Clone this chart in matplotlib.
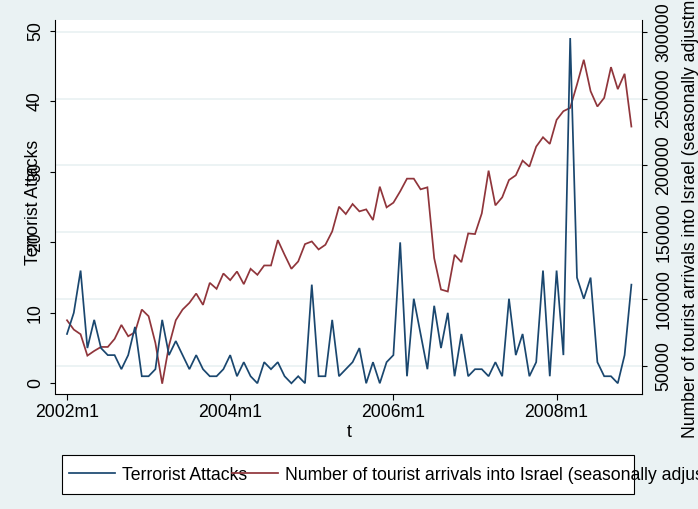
import numpy as np
import matplotlib
matplotlib.use("Agg")
import matplotlib.pyplot as plt
from matplotlib.patches import Rectangle
from matplotlib.lines import Line2D

# Monthly time variable (Stata %tm codes: 504 = 2002m1 ... 587 = 2008m12)
months = np.arange(504, 588)

# Terrorist attacks per month
attacks = [7, 10, 16, 5, 9, 5, 4, 4, 2, 4, 8, 1, 1, 2, 9, 4, 6, 4, 2, 4, 2, 1,
           1, 2, 4, 1, 3, 1, 0, 3, 2, 3, 1, 0, 1, 0, 14, 1, 1, 9, 1, 2, 3, 5, 0,
           3, 0, 3, 4, 20, 1, 12,
           7, 2, 11, 5, 10, 1, 7, 1, 2, 2, 1, 3, 1, 12, 4, 7, 1, 3, 16, 1, 16, 4,
           49, 15, 12, 15, 3, 1, 1, 0, 4, 14]

# Tourist arrivals into Israel, seasonally adjusted
arrivals = [84000, 77000, 73500, 57500, 61000, 64000, 64000, 70000, 80500, 72000,
            75000, 92000, 87000, 67000, 36500, 65000, 84000, 92000, 97000, 104000,
            95500, 112000, 107500, 119000, 114000, 120500, 111000, 122500, 118000,
            125000, 125000, 144000, 133000, 122500, 128000, 141000, 143000, 137000,
            140500, 150500, 169000, 163500, 171000, 165500, 167000, 159000, 184000,
            168500, 172000, 180500, 190000, 190000, 182000, 183500, 130500, 107000,
            105500, 133000, 127500, 149000, 148500, 164000, 196000, 170000, 176000,
            189000, 192500, 203500, 199000, 214000, 221000, 216000, 234000, 240500,
            243000, 260500, 279000, 255500, 244000, 250500, 273500, 257000, 268500,
            229000]

xtick_pos = [504, 528, 552, 576]
xtick_labels = ["2002m1", "2004m1", "2006m1", "2008m1"]
left_ticks = [0, 10, 20, 30, 40, 50]
right_ticks = [50000, 100000, 150000, 200000, 250000, 300000]

label_attacks = "Terrorist Attacks"
label_arrivals = "Number of tourist arrivals into Israel (seasonally adjustment)"

NAVY = "#1a476f"
MAROON = "#90353b"
BG = "#eaf2f3"
AXC = "#000000"

plt.rcParams['font.family'] = ['Liberation Sans', 'DejaVu Sans']
FS = 12.7

W, H = 698, 509
L, R, B, T = 55.5, 642, 394, 20

fig = plt.figure(figsize=(W / 100, H / 100), dpi=100, facecolor=BG)
ax = fig.add_axes([L / W, 1 - B / H, (R - L) / W, (B - T) / H])
ax2 = ax.twinx()

# right-axis panel sits behind, carries the white background and the grid
ax.set_zorder(ax2.get_zorder() + 1)
ax.patch.set_visible(False)
ax2.patch.set_visible(True)
ax2.patch.set_facecolor("white")

ax2.plot(months, arrivals, color=MAROON, lw=1.25, solid_joinstyle="miter")
ax.plot(months, attacks, color=NAVY, lw=1.25, solid_joinstyle="miter")

ax.set_xlim(502.31, 588.56)
ax.set_ylim(-1.52, 51.56)
ax2.set_ylim(28775, 308775)

ax.set_xticks(xtick_pos, xtick_labels)
ax.set_yticks(left_ticks)
ax2.set_yticks(right_ticks)

ax2.yaxis.grid(True, color=BG, lw=1.3)
ax2.set_axisbelow(True)

for s in ["top", "right"]:
    ax.spines[s].set_visible(False)
for s in ["top", "left", "bottom"]:
    ax2.spines[s].set_visible(False)
for sp in [ax.spines["left"], ax.spines["bottom"], ax2.spines["right"]]:
    sp.set_color(AXC)
    sp.set_linewidth(0.8)

ax.tick_params(axis="x", direction="out", length=4.3, width=0.8, pad=2.8,
               labelsize=FS, colors=AXC)
ax.tick_params(axis="y", direction="out", length=3.6, width=0.8, pad=4.8,
               labelsize=FS, colors=AXC, labelrotation=90)
ax2.tick_params(axis="y", direction="out", length=3.6, width=0.8, pad=5.9,
                labelsize=FS, colors=AXC, labelrotation=90)
for lab in ax.get_yticklabels():
    lab.set_va("center")
for lab in ax2.get_yticklabels():
    lab.set_va("center")

ax.set_xlabel("t", fontsize=FS, va="baseline")
ax.xaxis.set_label_coords(0.5, (B - 437) / (B - T))
ax.set_ylabel(label_attacks, fontsize=FS, va="baseline")
ax.yaxis.set_label_coords((38 - L) / (R - L), (B - 202) / (B - T))
ax2.set_ylabel(label_arrivals, fontsize=FS, va="baseline", rotation=90)
ax2.yaxis.set_label_coords((694.6 - L) / (R - L), (B - 204) / (B - T))

# legend: white box with entries that run past its right edge
fig.add_artist(Rectangle((62 / W, 1 - 494 / H), (634 - 62) / W, (494 - 455) / H,
                         transform=fig.transFigure, facecolor="white",
                         edgecolor="#000000", lw=0.8, zorder=3))
handles = [Line2D([], [], color=NAVY, lw=1.25), Line2D([], [], color=MAROON, lw=1.25)]
leg = fig.legend(handles, [label_attacks, label_arrivals],
                 ncol=2, frameon=False, fontsize=FS, loc="center left",
                 bbox_to_anchor=(69 / W, 1 - 475 / H), bbox_transform=fig.transFigure,
                 borderpad=0, borderaxespad=0, handlelength=2.6, handletextpad=0.4,
                 columnspacing=-0.87)
leg.set_zorder(4)

fig.savefig("out.png", dpi=100, facecolor=BG)
